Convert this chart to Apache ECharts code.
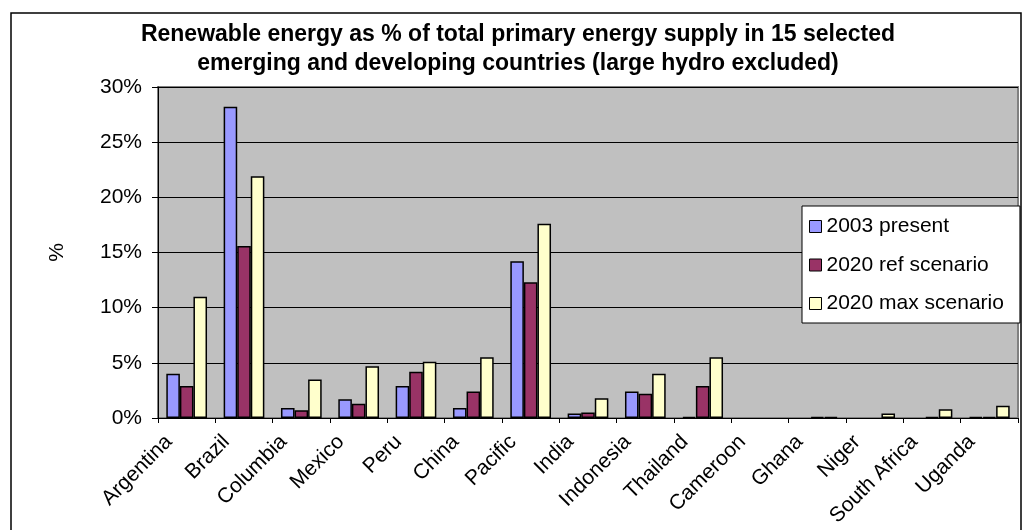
<!DOCTYPE html>
<html>
<head>
<meta charset="utf-8">
<title>Renewable energy share</title>
<script src="https://cdn.jsdelivr.net/npm/echarts@6.0.0/dist/echarts.min.js"></script>
<style>
  html, body { margin: 0; padding: 0; background: #ffffff; }
  #chart { width: 1023px; height: 530px; }
</style>
</head>
<body>
<div id="chart"></div>
<script>
// Countries on the category axis
const countries = ['Argentina', 'Brazil', 'Columbia', 'Mexico', 'Peru', 'China', 'Pacific',
  'India', 'Indonesia', 'Thailand', 'Cameroon', 'Ghana', 'Niger', 'South Africa', 'Uganda'];

// Renewable share of total primary energy supply, in percent
const present2003 = [4.0, 28.2, 0.9, 1.7, 2.9, 0.9, 14.2, 0.4, 2.4, 0.1, 0, 0, 0, 0, 0.1];
const ref2020 = [2.9, 15.6, 0.7, 1.3, 4.2, 2.4, 12.3, 0.5, 2.2, 2.9, 0, 0.1, 0, 0.1, 0.1];
const max2020 = [11.0, 21.9, 3.5, 4.7, 5.1, 5.5, 17.6, 1.8, 4.0, 5.5, 0, 0.1, 0.4, 0.8, 1.1];

const seriesNames = ['2003 present', '2020 ref scenario', '2020 max scenario'];
const seriesColors = ['#9999FF', '#993366', '#FFFFCC'];

// Value axis ticks
const yMin = 0, yMax = 30, yStep = 5;

const titleLines = [
  'Renewable energy as % of total primary energy supply in 15 selected',
  'emerging and developing countries (large hydro excluded)'
];

const FONT = 'Liberation Sans, Arial, sans-serif';

const chart = echarts.init(document.getElementById('chart'), null, { renderer: 'canvas' });

const seriesData = [present2003, ref2020, max2020];

// Empty bars get no outline so they do not thicken the category axis
function barItems(values) {
  return values.map(v => (v === 0 ? { value: v, itemStyle: { borderWidth: 0 } } : v));
}

chart.setOption({
  backgroundColor: '#ffffff',
  animation: false,
  textStyle: { fontFamily: FONT, color: '#000' },
  graphic: [
    {
      type: 'rect',
      shape: { x: 11, y: 13, width: 1010, height: 530 },
      style: { fill: 'none', stroke: '#000', lineWidth: 1.5 },
      z: -1
    },
    {
      type: 'text',
      x: 518,
      y: 20,
      style: {
        text: titleLines.join('\n'),
        fill: '#000',
        font: 'bold 23px ' + FONT,
        align: 'center',
        lineHeight: 29
      }
    }
  ],
  legend: {
    data: seriesNames,
    orient: 'vertical',
    left: 802,
    top: 206,
    backgroundColor: '#ffffff',
    borderColor: '#000',
    borderWidth: 1,
    borderRadius: 0,
    padding: [10, 16, 9, 7],
    itemGap: 17.5,
    itemWidth: 12,
    itemHeight: 12,
    icon: 'rect',
    itemStyle: { borderColor: '#000', borderWidth: 1 },
    textStyle: { fontSize: 21, color: '#000', fontFamily: FONT }
  },
  grid: {
    left: 158,
    top: 87,
    right: 5,
    bottom: 112,
    show: true,
    backgroundColor: '#C0C0C0',
    borderColor: '#808080',
    borderWidth: 2
  },
  xAxis: {
    type: 'category',
    data: countries,
    axisLine: { show: true, lineStyle: { color: '#000', width: 1 } },
    axisTick: { show: true, length: 5, lineStyle: { color: '#000' } },
    axisLabel: {
      interval: 0,
      rotate: 45,
      fontSize: 21,
      color: '#000',
      margin: 3,
      padding: [0, 25, 0, 0]
    }
  },
  yAxis: {
    type: 'value',
    min: yMin,
    max: yMax,
    interval: yStep,
    name: '%',
    nameLocation: 'middle',
    nameRotate: 90,
    nameGap: 90,
    nameTextStyle: { fontSize: 21, color: '#000' },
    axisLine: { show: true, lineStyle: { color: '#000', width: 1 } },
    axisTick: { show: true, length: 6, lineStyle: { color: '#000' } },
    axisLabel: { formatter: '{value}%', fontSize: 21, color: '#000', margin: 16 },
    splitLine: { show: true, lineStyle: { color: '#000', width: 1 } }
  },
  series: seriesNames.map((name, i) => ({
    name: name,
    type: 'bar',
    data: barItems(seriesData[i]),
    barGap: '0%',
    barCategoryGap: '29%',
    itemStyle: { color: seriesColors[i], borderColor: '#000', borderWidth: 1.5 }
  }))
});
</script>
</body>
</html>
